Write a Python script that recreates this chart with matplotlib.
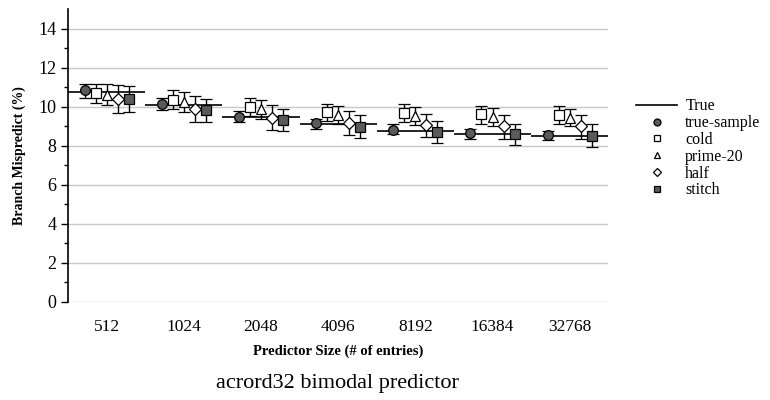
import numpy as np
import matplotlib.pyplot as plt
from matplotlib.lines import Line2D

plt.rcParams['font.family'] = ['Liberation Serif', 'DejaVu Serif']

sizes = ["512", "1024", "2048", "4096", "8192", "16384", "32768"]

true_vals = [10.77, 10.07, 9.45, 9.09, 8.77, 8.60, 8.50]

# mean, low, high for each sampled series
true_sample = [10.84, 10.14, 9.49, 9.14, 8.82, 8.65, 8.53]
true_sample_lo = [10.46, 9.81, 9.21, 8.87, 8.58, 8.37, 8.27]
true_sample_hi = [11.18, 10.46, 9.76, 9.37, 9.09, 8.86, 8.75]

cold = [10.70, 10.36, 10.00, 9.73, 9.68, 9.63, 9.59]
cold_lo = [10.17, 9.88, 9.54, 9.25, 9.19, 9.13, 9.13]
cold_hi = [11.18, 10.84, 10.46, 10.15, 10.12, 10.05, 10.05]

prime20 = [10.60, 10.24, 9.88, 9.59, 9.50, 9.47, 9.42]
prime20_lo = [10.10, 9.73, 9.37, 9.11, 9.04, 8.99, 8.99]
prime20_hi = [11.14, 10.73, 10.32, 10.05, 9.98, 9.91, 9.88]

half = [10.40, 9.86, 9.42, 9.16, 9.08, 9.03, 8.99]
half_lo = [9.70, 9.20, 8.78, 8.53, 8.43, 8.34, 8.36]
half_hi = [11.10, 10.53, 10.07, 9.76, 9.64, 9.59, 9.57]

stitch = [10.40, 9.83, 9.30, 8.96, 8.70, 8.60, 8.51]
stitch_lo = [9.74, 9.21, 8.73, 8.39, 8.14, 8.02, 7.96]
stitch_hi = [11.08, 10.41, 9.88, 9.55, 9.25, 9.13, 9.09]

series = [
    ("true-sample", true_sample, true_sample_lo, true_sample_hi, "o", "#5a5a5a"),
    ("cold", cold, cold_lo, cold_hi, "s", "white"),
    ("prime-20", prime20, prime20_lo, prime20_hi, "^", "white"),
    ("half", half, half_lo, half_hi, "D", "white"),
    ("stitch", stitch, stitch_lo, stitch_hi, "s", "#5a5a5a"),
]

fig = plt.figure(figsize=(7.7, 4), dpi=100)
ax = fig.add_axes([0.0883, 0.245, 0.7017, 0.7325])

x = np.arange(len(sizes))
ax.hlines(true_vals, x, x + 1, colors="black", lw=1.2, zorder=2)

offsets = [-0.286, -0.143, 0.0, 0.143, 0.286]
handles = [Line2D([], [], color="black", lw=1.2, label="True")]
for (name, vals, lo, hi, mk, fc), off in zip(series, offsets):
    vals = np.array(vals)
    yerr = [vals - np.array(lo), np.array(hi) - vals]
    ms = 6 if mk == "D" else 7
    ax.errorbar(x + 0.5 + off, vals, yerr=yerr, fmt=mk, ms=ms, mfc=fc, mec="black",
                mew=0.9, ecolor="black", elinewidth=1.0, capsize=4, capthick=1.0,
                zorder=3)
    handles.append(Line2D([], [], ls="none", marker=mk, ms=5 if mk != "D" else 4.5,
                          mfc=fc, mec="black", mew=0.9, label=name))

ax.set_xlim(0, len(sizes))
ax.set_ylim(0, 15)
ax.set_xticks(x + 0.5)
ax.set_xticklabels(sizes, fontsize=12.5)
ax.tick_params(axis="x", length=0, pad=12)
ax.set_yticks(np.arange(0, 15, 2))
ax.set_yticks(np.arange(1, 15, 2), minor=True)
ax.tick_params(axis="y", which="major", length=5, width=1, labelsize=13)
ax.tick_params(axis="y", which="minor", length=3, width=1)
ax.yaxis.grid(True, color="#c8c8c8", lw=1)
ax.set_axisbelow(True)
for s in ["top", "right", "bottom"]:
    ax.spines[s].set_visible(False)
ax.spines["left"].set_linewidth(1.2)

ax.set_ylabel("Branch Mispredict (%)", fontsize=10, fontweight="bold", labelpad=9)
ax.set_xlabel("Predictor Size (# of entries)", fontsize=10.5, fontweight="bold", labelpad=7)
fig.text(0.438, 0.03, "acrord32 bimodal predictor", ha="center", fontsize=16)

fig.legend(handles=handles, loc="upper left", bbox_to_anchor=(0.807, 0.79),
           frameon=False, fontsize=11.5, handlelength=2.6, handletextpad=0.5,
           labelspacing=0.05)

fig.savefig("out.png", dpi=100)
